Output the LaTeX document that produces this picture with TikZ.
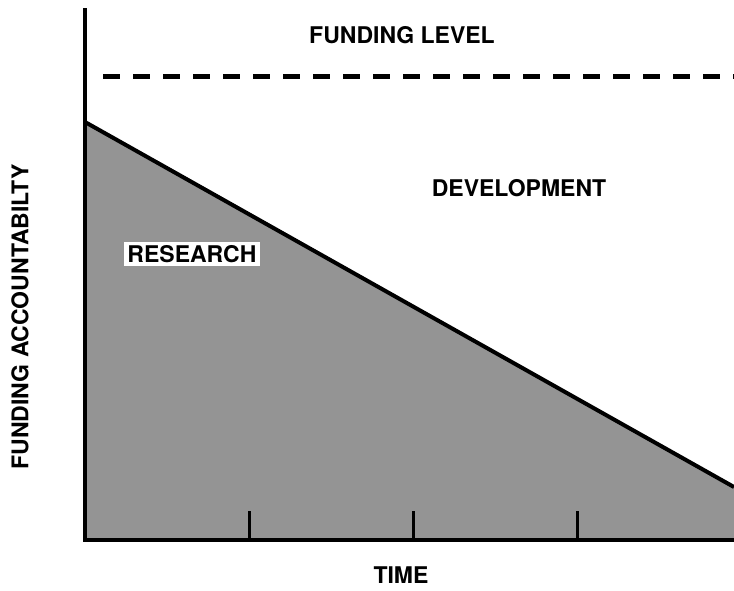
\documentclass[tikz,border=0pt]{standalone}
\usepackage{fontspec}
\setmainfont{TeX Gyre Heros}
\begin{document}
\begin{tikzpicture}[x=1pt,y=-1pt,
  lbl/.style={font=\fontsize{23}{27}\selectfont\bfseries}]
\useasboundingbox (0,0) rectangle (734,590);
\coordinate (top) at (85,8);
\coordinate (O) at (85,540);
\coordinate (xend) at (734,540);
\coordinate (apex) at (85,122);
\coordinate (foot) at (734,487);
\coordinate (dl) at (103,76);
\coordinate (dr) at (734,76);
\fill[black!42] (O) -- (apex) -- (foot) -- (xend) -- cycle;
\draw[line width=4pt] (apex) -- (foot);
\foreach \x in {249,413,577} \draw[line width=3pt] (\x,540) -- (\x,511);
\draw[line width=4pt] (top) -- (O) -- (xend);
\draw[line width=5pt,dash pattern=on 17pt off 13pt] (dl) -- (dr);
\node[lbl] (fl) at (402,35) {FUNDING LEVEL};
\node[lbl] (dev) at (519,188) {DEVELOPMENT};
\node[lbl,fill=white,inner sep=3pt] (res) at (192,254) {RESEARCH};
\node[lbl] (time) at (401,575) {TIME};
\node[lbl,rotate=90] (fa) at (20,317) {FUNDING ACCOUNTABILTY};
\end{tikzpicture}
\end{document}
